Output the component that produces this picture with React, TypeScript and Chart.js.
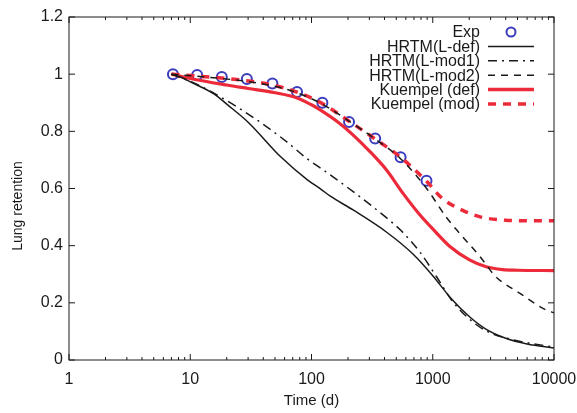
import React, { useEffect, useRef } from "react";
import { Chart, registerables } from "chart.js";
Chart.register(...registerables);

const xTickValues = [1, 10, 100, 1000, 10000];
const yTickValues = [0, 0.2, 0.4, 0.6, 0.8, 1, 1.2];
const xTitle = "Time (d)";
const yTitle = "Lung retention";

const expTime = [7.2, 11.4, 18.2, 29.3, 47.6, 76, 123, 204, 335, 543, 888];
const expRetention = [1.0, 0.997, 0.99, 0.983, 0.967, 0.938, 0.9, 0.833, 0.775, 0.709, 0.627];

const hrtmDefTime = [7, 8.4, 10, 15.8, 20, 30, 56, 92, 120, 143, 222, 417, 690, 1000, 1400, 2000, 2700, 4000, 6000, 10000];
const hrtmDefRetention = [1.0, 0.989, 0.973, 0.93, 0.895, 0.832, 0.71, 0.631, 0.597, 0.573, 0.524, 0.447, 0.37, 0.295, 0.218, 0.152, 0.11, 0.076, 0.056, 0.042];

const hrtmMod1Time = [7, 10, 18, 36, 63, 92, 126, 222, 417, 550, 782, 1072, 1468, 2010, 2754, 4560, 10000];
const hrtmMod1Retention = [1.0, 0.975, 0.919, 0.838, 0.762, 0.704, 0.664, 0.588, 0.497, 0.452, 0.378, 0.292, 0.203, 0.143, 0.102, 0.071, 0.045];

const hrtmMod2Time = [7, 11, 18, 29, 47, 76, 123, 200, 330, 540, 890, 1290, 1650, 2450, 3300, 5200, 8500, 10000];
const hrtmMod2Retention = [1.0, 0.993, 0.985, 0.975, 0.96, 0.935, 0.895, 0.838, 0.775, 0.705, 0.6, 0.5, 0.445, 0.362, 0.292, 0.234, 0.176, 0.165];

const kuempelDefTime = [7, 10, 20, 30, 50, 76, 100, 118, 173, 222, 305, 417, 571, 782, 1072, 1377, 2010, 2754, 3770, 5000, 10000];
const kuempelDefRetention = [1.0, 0.985, 0.962, 0.95, 0.935, 0.917, 0.893, 0.875, 0.826, 0.786, 0.728, 0.664, 0.582, 0.508, 0.445, 0.398, 0.35, 0.326, 0.316, 0.314, 0.313];

const kuempelModTime = [7, 11, 18, 29, 47, 76, 123, 200, 330, 540, 890, 1200, 1800, 2500, 4000, 6000, 10000];
const kuempelModRetention = [1.0, 0.994, 0.987, 0.977, 0.963, 0.937, 0.897, 0.838, 0.775, 0.71, 0.625, 0.565, 0.522, 0.5, 0.489, 0.487, 0.487];

const FONT = "'Liberation Sans', Arial, Helvetica, sans-serif";
const BLUE = "rgb(60,60,190)";
const RED = "rgb(236,42,58)";
const INK = "#1a1a1a";

const toPts = (xs: number[], ys: number[]) => xs.map((x, i) => ({ x, y: ys[i] }));

type LegendItem = { label: string; kind: "circle" | "line"; color: string; width: number; dash: number[] };
const legendItems: LegendItem[] = [
  { label: "Exp", kind: "circle", color: BLUE, width: 2, dash: [] },
  { label: "HRTM(L-def)", kind: "line", color: INK, width: 1.5, dash: [] },
  { label: "HRTM(L-mod1)", kind: "line", color: INK, width: 1.5, dash: [9, 5, 2, 5] },
  { label: "HRTM(L-mod2)", kind: "line", color: INK, width: 1.5, dash: [7, 6] },
  { label: "Kuempel (def)", kind: "line", color: RED, width: 3.5, dash: [] },
  { label: "Kuempel (mod)", kind: "line", color: RED, width: 3.5, dash: [8, 7] },
];

const decorPlugin = {
  id: "decor",
  afterDraw(chart: any) {
    const { ctx, chartArea, scales } = chart;
    const { left, right, top, bottom } = chartArea;
    ctx.save();
    ctx.strokeStyle = INK;
    ctx.lineWidth = 1;
    ctx.setLineDash([]);
    ctx.strokeRect(left, top, right - left, bottom - top);
    ctx.beginPath();
    for (const v of xTickValues) {
      const px = scales.x.getPixelForValue(v);
      ctx.moveTo(px, bottom); ctx.lineTo(px, bottom - 6);
      ctx.moveTo(px, top); ctx.lineTo(px, top + 6);
    }
    for (let d = 1; d < 10000; d *= 10) {
      for (let k = 2; k <= 9; k++) {
        const px = scales.x.getPixelForValue(d * k);
        ctx.moveTo(px, bottom); ctx.lineTo(px, bottom - 3);
        ctx.moveTo(px, top); ctx.lineTo(px, top + 3);
      }
    }
    for (const v of yTickValues) {
      const py = scales.y.getPixelForValue(v);
      ctx.moveTo(left, py); ctx.lineTo(left + 6, py);
      ctx.moveTo(right, py); ctx.lineTo(right - 6, py);
    }
    ctx.stroke();

    ctx.fillStyle = INK;
    ctx.font = `15px ${FONT}`;
    ctx.textAlign = "center";
    ctx.textBaseline = "middle";
    ctx.fillText(xTitle, (left + right) / 2, 401);
    ctx.save();
    ctx.translate(18, 206);
    ctx.rotate(-Math.PI / 2);
    ctx.font = `14px ${FONT}`;
    ctx.fillText(yTitle, 0, 0);
    ctx.restore();

    ctx.font = `16px ${FONT}`;
    ctx.textAlign = "right";
    ctx.textBaseline = "middle";
    legendItems.forEach((it, i) => {
      const y = 32 + i * 14.4;
      ctx.fillStyle = INK;
      ctx.fillText(it.label, 480, y + 1);
      ctx.strokeStyle = it.color;
      ctx.lineWidth = it.width;
      ctx.setLineDash(it.dash);
      ctx.beginPath();
      if (it.kind === "circle") {
        ctx.arc(511, y, 4.5, 0, Math.PI * 2);
      } else {
        ctx.moveTo(488, y);
        ctx.lineTo(534, y);
      }
      ctx.stroke();
    });
    ctx.restore();
  },
};

export default function App() {
  const ref = useRef<HTMLCanvasElement | null>(null);
  useEffect(() => {
    document.body.style.margin = "0";
    const canvas = ref.current!;
    const lineDs = (label: string, xs: number[], ys: number[], color: string, width: number, dash: number[]) => ({
      label,
      data: toPts(xs, ys),
      borderColor: color,
      backgroundColor: color,
      borderWidth: width,
      borderDash: dash,
      pointRadius: 0,
      fill: false,
      cubicInterpolationMode: "monotone" as const,
    });
    const chart = new Chart(canvas, {
      type: "line",
      data: {
        datasets: [
          lineDs("HRTM(L-def)", hrtmDefTime, hrtmDefRetention, INK, 1.5, []),
          lineDs("HRTM(L-mod1)", hrtmMod1Time, hrtmMod1Retention, INK, 1.5, [9, 5, 2, 5]),
          lineDs("HRTM(L-mod2)", hrtmMod2Time, hrtmMod2Retention, INK, 1.5, [7, 6]),
          lineDs("Kuempel (def)", kuempelDefTime, kuempelDefRetention, RED, 3.2, []),
          lineDs("Kuempel (mod)", kuempelModTime, kuempelModRetention, RED, 3.5, [8, 7]),
          {
            label: "Exp",
            data: toPts(expTime, expRetention),
            showLine: false,
            borderColor: BLUE,
            backgroundColor: "rgba(0,0,0,0)",
            pointRadius: 5,
            pointBorderWidth: 2,
            pointStyle: "circle",
            order: 10,
          } as any,
        ],
      },
      options: {
        responsive: false,
        animation: false,
        layout: { padding: { top: 17, right: 23, left: 0, bottom: 0 } },
        plugins: { legend: { display: false }, tooltip: { enabled: false } },
        scales: {
          x: {
            type: "logarithmic",
            min: 1,
            max: 10000,
            grid: { display: false, drawTicks: false },
            border: { display: false },
            afterBuildTicks: (s: any) => { s.ticks = xTickValues.map((v) => ({ value: v })); },
            afterFit: (s: any) => { s.height = 53; s.paddingLeft = 0; s.paddingRight = 0; },
            ticks: {
              autoSkip: false,
              maxRotation: 0,
              padding: 10,
              color: INK,
              font: { family: FONT, size: 16 },
              callback: (v: any) => String(v),
            },
          },
          y: {
            type: "linear",
            min: 0,
            max: 1.2,
            grid: { display: false, drawTicks: false },
            border: { display: false },
            afterBuildTicks: (s: any) => { s.ticks = yTickValues.map((v) => ({ value: v })); },
            afterFit: (s: any) => { s.width = 69; s.paddingTop = 0; s.paddingBottom = 0; },
            ticks: {
              padding: 6,
              color: INK,
              font: { family: FONT, size: 16 },
              callback: (v: any) => String(Number(Number(v).toFixed(1))),
            },
          },
        },
      },
      plugins: [decorPlugin],
    });
    return () => chart.destroy();
  }, []);
  return (
    <div style={{ width: 577, height: 413, background: "#fff" }}>
      <canvas ref={ref} width={577} height={413} style={{ display: "block" }} />
    </div>
  );
}
